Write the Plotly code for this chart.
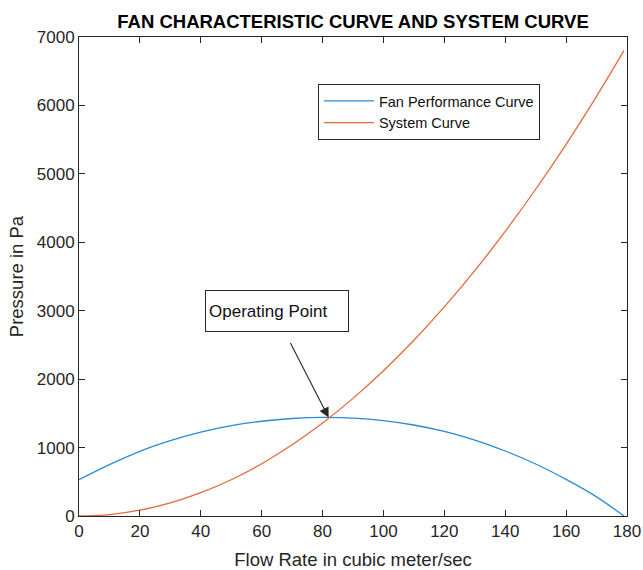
import plotly.graph_objects as go

flow = [0, 10, 20, 30, 40, 50, 60, 70, 80, 90, 100, 110, 120, 130, 140, 150, 160, 170, 179]
fan_pressure = [530, 750, 945, 1100, 1225, 1320, 1385, 1425, 1440, 1430, 1395, 1330, 1235,
                1110, 950, 760, 535, 280, 0]
system_pressure = [0, 21, 85, 191, 340, 530, 764, 1040, 1358, 1719, 2122, 2568, 3056,
                   3586, 4159, 4775, 5432, 6133, 6800]
op_point = (82, 1440)
x_ticks = list(range(0, 181, 20))
y_ticks = list(range(0, 7001, 1000))

FONT = "Liberation Sans, Arial, sans-serif"
AX = "#262626"

fig = go.Figure()
fig.add_trace(go.Scatter(x=flow, y=fan_pressure, mode="lines", name="Fan Performance Curve",
                         line=dict(color="#2a8ad4", width=1.3, shape="spline")))
fig.add_trace(go.Scatter(x=flow, y=system_pressure, mode="lines", name="System Curve",
                         line=dict(color="#e56a3a", width=1.3, shape="spline")))

fig.add_annotation(x=op_point[0], y=op_point[1], xref="x", yref="y", text="",
                   showarrow=True, arrowhead=2, arrowsize=1.8, arrowwidth=1.1,
                   arrowcolor="#262626", ax=-39, ay=-76)
fig.add_annotation(x=64.9, y=2996, xref="x", yref="y", text="Operating Point",
                   showarrow=False, font=dict(family=FONT, size=17, color="#111"),
                   bordercolor="#262626", borderwidth=1, borderpad=3,
                   bgcolor="white", width=136, height=34, align="left",
                   xanchor="center", yanchor="middle")

fig.update_layout(
    width=643, height=570,
    margin=dict(l=79, r=16, t=37, b=54, autoexpand=False),
    paper_bgcolor="white", plot_bgcolor="white",
    title=dict(text="<b>FAN CHARACTERISTIC CURVE AND SYSTEM CURVE</b>",
               x=0.549, xanchor="center", y=0.963, yanchor="middle",
               font=dict(family=FONT, size=18.5, color="#000")),
    font=dict(family=FONT, size=15, color=AX),
    showlegend=True,
    legend=dict(x=0.436, y=0.902, xanchor="left", yanchor="top",
                bordercolor="#262626", borderwidth=1, bgcolor="white",
                font=dict(family=FONT, size=14.5, color="#111"),
                itemwidth=50, tracegroupgap=0),
    xaxis=dict(range=[0, 180], tickvals=x_ticks, ticks="inside", ticklen=6,
               tickcolor=AX, showline=True, linecolor=AX, linewidth=1, mirror="ticks",
               showgrid=False, zeroline=False, automargin=False,
               tickfont=dict(family=FONT, size=17, color=AX),
               title=dict(text="Flow Rate in cubic meter/sec", standoff=16,
                          font=dict(family=FONT, size=18.5, color=AX))),
    yaxis=dict(range=[0, 7000], tickvals=y_ticks, ticks="inside", ticklen=6,
               tickcolor=AX, showline=True, linecolor=AX, linewidth=1, mirror="ticks",
               showgrid=False, zeroline=False, automargin=False,
               tickfont=dict(family=FONT, size=17, color=AX),
               title=dict(text="Pressure in Pa", standoff=8,
                          font=dict(family=FONT, size=18.5, color=AX))),
)

fig.write_html("out.html", config={"displayModeBar": False},
               post_script="document.body.style.margin='0';document.body.style.overflow='hidden';")
